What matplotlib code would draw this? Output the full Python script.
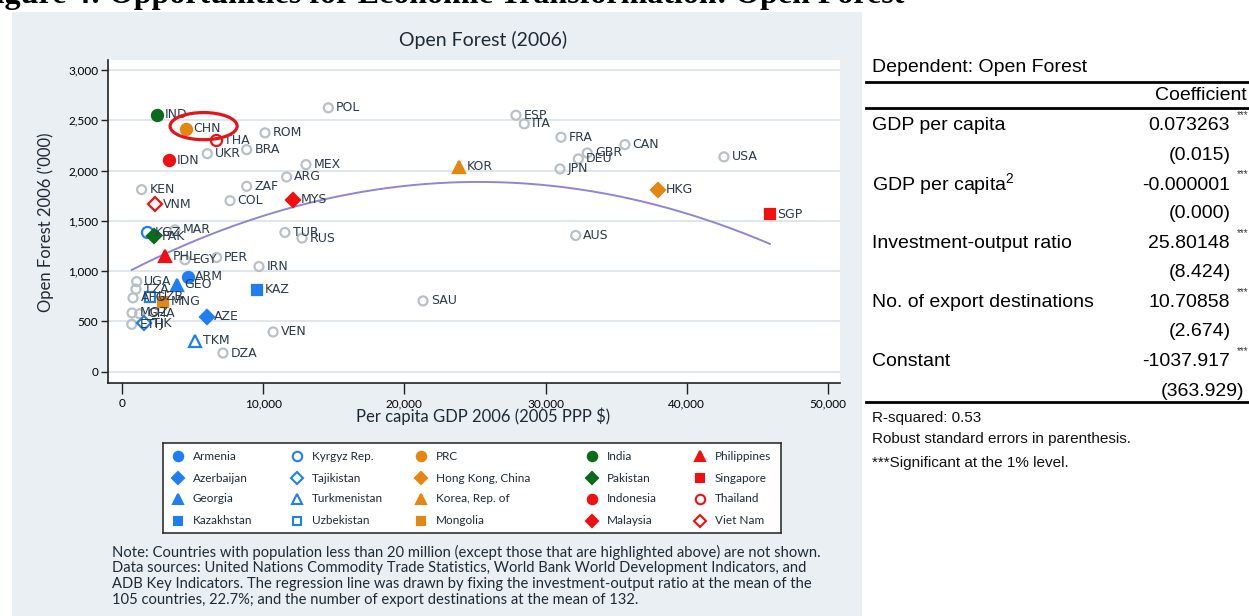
import matplotlib.pyplot as plt
from matplotlib.patches import Ellipse, Rectangle
from matplotlib.lines import Line2D
from matplotlib.ticker import FuncFormatter

plt.rcParams['mathtext.fontset'] = 'custom'
plt.rcParams['mathtext.rm'] = 'Liberation Sans'

# countries not highlighted (grey hollow circles)
other_codes = ['POL', 'ROM', 'UKR', 'BRA', 'MEX', 'ARG', 'KEN', 'ZAF', 'COL', 'MAR',
               'TUR', 'RUS', 'EGY', 'PER', 'IRN', 'UGA', 'TZA', 'AFG', 'MOZ', 'GHA',
               'ETH', 'VEN', 'DZA', 'SAU', 'ESP', 'ITA', 'FRA', 'GBR', 'DEU', 'JPN',
               'CAN', 'USA', 'AUS']
other_gdp = [14610, 10130, 6040, 8830, 13030, 11660, 1390, 8830, 7650, 3750,
             11540, 12750, 4460, 6700, 9700, 1040, 990, 780, 710, 1250,
             690, 10700, 7150, 21320, 27900, 28490, 31090, 32950, 32320, 31020,
             35620, 42630, 32130]
other_forest = [2624, 2375, 2168, 2208, 2059, 1936, 1810, 1843, 1700, 1410,
                1384, 1328, 1112, 1135, 1045, 895, 820, 733, 583, 575,
                470, 394, 184, 703, 2550, 2465, 2331, 2175, 2116, 2016,
                2258, 2136, 1354]

# highlighted Asian economies (legend order)
hl_names = ['Armenia', 'Azerbaijan', 'Georgia', 'Kazakhstan',
            'Kyrgyz Rep.', 'Tajikistan', 'Turkmenistan', 'Uzbekistan',
            'PRC', 'Hong Kong, China', 'Korea, Rep. of', 'Mongolia',
            'India', 'Pakistan', 'Indonesia', 'Malaysia',
            'Philippines', 'Singapore', 'Thailand', 'Viet Nam']
hl_codes = ['ARM', 'AZE', 'GEO', 'KAZ', 'KGZ', 'TJK', 'TKM', 'UZB',
            'CHN', 'HKG', 'KOR', 'MNG', 'IND', 'PAK', 'IDN', 'MYS',
            'PHL', 'SGP', 'THA', 'VNM']
hl_gdp = [4650, 6000, 3870, 9540, 1750, 1560, 5170, 1980,
          4530, 37940, 23890, 2880, 2460, 2270, 3350, 12130,
          3050, 45890, 6660, 2340]
hl_forest = [945, 546, 862, 812, 1388, 483, 307, 743,
             2417, 1810, 2036, 696, 2557, 1344, 2102, 1710,
             1145, 1563, 2301, 1667]

# regression table
tbl_vars = ['GDP per capita', 'GDP per capita$^2$', 'Investment-output ratio',
            'No. of export destinations', 'Constant']
tbl_coef = ['0.073263', '-0.000001', '25.80148', '10.70858', '-1037.917']
tbl_se = ['(0.015)', '(0.000)', '(8.424)', '(2.674)', '(363.929)']

# regression line: fitted at mean investment ratio (22.7) and mean destinations (132)
b_gdp = 0.073263
b_gdp2 = -0.00000145  # printed rounded as -0.000001
intercept = -1037.917 + 25.80148 * 22.7 + 10.70858 * 132

blue, orange, green, red = '#1f7ff2', '#e4860f', '#0b6b1c', '#f01010'
grey = '#b9c0c8'
txt = '#2b3a4a'
palette = [blue] * 8 + [orange] * 4 + [green] * 2 + [red] * 6
shapes = ['o', 'D', '^', 's', 'o', 'D', '^', 's', 'o', 'D', '^', 's',
          'o', 'D', 'o', 'D', '^', 's', 'o', 'D']
hollow = [False] * 4 + [True] * 4 + [False] * 10 + [True, True]
msize = {'o': 8, 'D': 7, '^': 8.5, 's': 7.5}

W, H = 1249, 616
def fx(px):
    return px / W
def fy(py):
    return 1 - py / H

fig = plt.figure(figsize=(12.49, 6.16), dpi=100)
fig.add_artist(Rectangle((fx(12), 0), fx(862) - fx(12), fy(12), transform=fig.transFigure,
                         facecolor='#e9eff2', edgecolor='none', zorder=0))

fig.text(fx(-24), fy(3), 'Figure 4: Opportunities for Economic Transformation: Open Forest',
         family='Liberation Serif', fontweight='bold', fontsize=23, va='baseline', ha='left')

ax = fig.add_axes([fx(108), fy(383), fx(840) - fx(108), fy(60) - fy(383)])
ax.set_facecolor('white')
ax.set_xlim(-991, 50850)
ax.set_ylim(-114, 3100)
for s in ['top', 'right']:
    ax.spines[s].set_visible(False)
for s in ['left', 'bottom']:
    ax.spines[s].set_color('#222222')
    ax.spines[s].set_linewidth(1.2)
ax.set_xticks([0, 10000, 20000, 30000, 40000, 50000])
ax.set_yticks([0, 500, 1000, 1500, 2000, 2500, 3000])
fmt = FuncFormatter(lambda v, p: f'{v:,.0f}')
ax.xaxis.set_major_formatter(fmt)
ax.yaxis.set_major_formatter(fmt)
ax.tick_params(axis='x', length=8, width=1, labelsize=8.5, pad=3, color='#222222')
ax.tick_params(axis='y', length=5, width=1, labelsize=8.5, pad=2, color='#222222')
for lab in ax.get_xticklabels() + ax.get_yticklabels():
    lab.set_family('Lato')
ax.yaxis.grid(True, color='#e0e6ea', lw=1.4)
ax.set_axisbelow(True)

ax.scatter(other_gdp, other_forest, s=42, facecolors='none', edgecolors=grey,
           linewidths=1.6, zorder=3)
for code, x, y in zip(other_codes, other_gdp, other_forest):
    ax.annotate(code, (x, y), xytext=(5.5, 0), textcoords='offset points',
                va='center', ha='left', fontsize=9, color=txt, zorder=5)

for i, (code, x, y) in enumerate(zip(hl_codes, hl_gdp, hl_forest)):
    m = shapes[i]
    ax.plot(x, y, marker=m, ms=msize[m], color=palette[i],
            mfc='white' if hollow[i] else palette[i], mew=1.6, zorder=4)
    ax.annotate(code, (x, y), xytext=(5.5, 0), textcoords='offset points',
                va='center', ha='left', fontsize=9, color=txt, zorder=5)

xs = sorted(other_gdp + hl_gdp)
xs = [xs[0] + (xs[-1] - xs[0]) * k / 200 for k in range(201)]
ys = [intercept + b_gdp * x + b_gdp2 * x * x for x in xs]
ax.plot(xs, ys, color='#8f85d8', lw=1.4, zorder=2)

ci = hl_codes.index('CHN')
ax.add_patch(Ellipse((hl_gdp[ci] + 1250, hl_forest[ci] + 25), 4750, 270, fill=False,
                     edgecolor='#e3141b', lw=2.3, zorder=6))

fig.text(fx(483), fy(40), 'Open Forest (2006)', family='Lato', fontsize=14,
         ha='center', va='center', color='#1e2a36')
fig.text(fx(483), fy(416), 'Per capita GDP 2006 (2005 PPP $)', family='Lato', fontsize=12,
         ha='center', va='center', color='#1e2a36')
fig.text(fx(46), fy(222), "Open Forest 2006 ('000)", family='Lato', fontsize=12,
         ha='center', va='center', rotation=90, color='#1e2a36')

# legend box
lg = fig.add_axes([fx(163), fy(533), fx(781) - fx(163), fy(443) - fy(533)])
lg.set_xlim(163, 781)
lg.set_ylim(533, 443)
lg.set_xticks([])
lg.set_yticks([])
lg.set_facecolor('white')
for s in lg.spines.values():
    s.set_color('#222222')
    s.set_linewidth(1.1)
col_x = [178, 297, 421, 592, 700]
row_y = [456, 478, 499, 521]
for i, name in enumerate(hl_names):
    cx, ry = col_x[i // 4], row_y[i % 4]
    m = shapes[i]
    lg.plot(cx, ry, marker=m, ms=msize[m] * 0.85, color=palette[i],
            mfc='white' if hollow[i] else palette[i], mew=1.5)
    lg.text(cx + 15, ry, name, family='Lato', fontsize=8.5, va='center', ha='left',
            color='#1e2a36')

notes = ['Note: Countries with population less than 20 million (except those that are highlighted above) are not shown.',
         'Data sources: United Nations Commodity Trade Statistics, World Bank World Development Indicators, and',
         'ADB Key Indicators. The regression line was drawn by fixing the investment-output ratio at the mean of the',
         '105 countries, 22.7%; and the number of export destinations at the mean of 132.']
for k, line in enumerate(notes):
    fig.text(fx(112), fy(552 + 16 * k), line, family='Lato', fontsize=10.6,
             va='center', ha='left', color='#1e2a36')

# regression table
tf = dict(family='Liberation Sans', fontsize=14, va='center', color='black')
fig.text(fx(872), fy(68), 'Dependent: Open Forest', ha='left', **tf)
fig.text(fx(1247), fy(96), 'Coefficient', ha='right', **tf)
for yy in [82, 108, 402]:
    fig.add_artist(Line2D([fx(866), 1.0], [fy(yy), fy(yy)], transform=fig.transFigure,
                          color='black', lw=2))
for k in range(len(tbl_vars)):
    y1 = 126 + 59 * k
    fig.text(fx(872), fy(y1), tbl_vars[k], ha='left', **tf)
    fig.text(fx(1230), fy(y1), tbl_coef[k], ha='right', **tf)
    fig.text(fx(1237), fy(y1 - 11), '***', ha='left', family='Liberation Sans',
             fontsize=7, va='center', color='#333333')
    se_x = 1244 if k == len(tbl_vars) - 1 else 1231
    fig.text(fx(se_x), fy(y1 + 29), tbl_se[k], ha='right', **tf)

sf = dict(family='Liberation Sans', fontsize=11, va='center', ha='left', color='#111111')
fig.text(fx(872), fy(418), 'R-squared: 0.53', **sf)
fig.text(fx(872), fy(439), 'Robust standard errors in parenthesis.', **sf)
fig.text(fx(872), fy(463), '***Significant at the 1% level.', **sf)

fig.savefig('out.png', dpi=100)
